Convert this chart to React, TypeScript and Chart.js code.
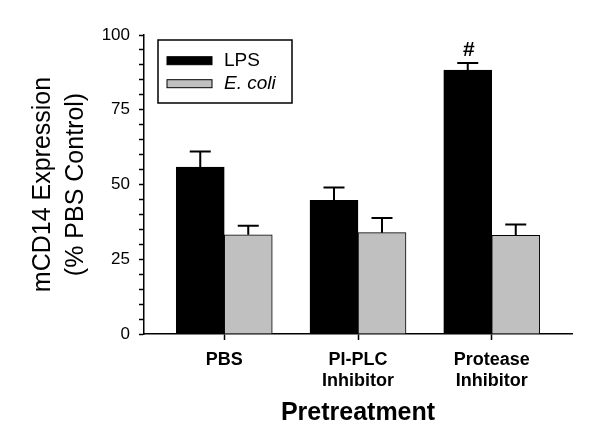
import { useEffect, useRef } from 'react';
import { Chart, registerables } from 'chart.js';

Chart.register(...registerables);

// ---- data ----
const categories: string[][] = [['PBS'], ['PI-PLC', 'Inhibitor'], ['Protease', 'Inhibitor']];
const categoryPositions = [1, 2, 3];
const seriesNames = ['LPS', 'E. coli'];
const lpsValues = [55.8, 44.7, 88.3];
const lpsErrors = [5.2, 4.3, 2.3];
const ecoliValues = [33.2, 33.9, 33.0];
const ecoliErrors = [3.0, 4.9, 3.6];
const lpsMarks = ['', '', '#'];
const yTickLabels = [0, 25, 50, 75, 100];
const yTitle = ['mCD14 Expression', '(% PBS Control)'];
const xTitle = 'Pretreatment';

const FONT = "'Liberation Sans', Arial, sans-serif";

const errorBarPlugin = {
  id: 'errorBars',
  afterDatasetsDraw(chart: any) {
    const ctx = chart.ctx;
    const yScale = chart.scales.y;
    chart.data.datasets.forEach((ds: any, i: number) => {
      const meta = chart.getDatasetMeta(i);
      meta.data.forEach((el: any, j: number) => {
        const v = ds.data[j].y;
        const top = yScale.getPixelForValue(v + ds.errors[j]);
        ctx.save();
        ctx.strokeStyle = '#000';
        ctx.lineWidth = 2;
        ctx.beginPath();
        ctx.moveTo(el.x, el.y);
        ctx.lineTo(el.x, top);
        ctx.moveTo(el.x - 10.5, top);
        ctx.lineTo(el.x + 10.5, top);
        ctx.stroke();
        const mark = ds.marks ? ds.marks[j] : '';
        if (mark) {
          ctx.fillStyle = '#000';
          ctx.font = `bold 21px ${FONT}`;
          ctx.textAlign = 'center';
          ctx.textBaseline = 'alphabetic';
          ctx.fillText(mark, el.x + 1, top - 7);
        }
        ctx.restore();
      });
    });
  },
};

const boxLegendPlugin = {
  id: 'boxLegend',
  afterDraw(chart: any) {
    const { ctx, chartArea } = chart;
    const x0 = chartArea.left + 14;
    const y0 = chartArea.top + 5;
    const w = 134;
    const h = 63;
    ctx.save();
    ctx.fillStyle = '#fff';
    ctx.fillRect(x0, y0, w, h);
    ctx.strokeStyle = '#000';
    ctx.lineWidth = 1.5;
    ctx.strokeRect(x0, y0, w, h);
    chart.data.datasets.forEach((ds: any, i: number) => {
      const sy = y0 + 16.7 + i * 23;
      ctx.fillStyle = ds.backgroundColor;
      ctx.fillRect(x0 + 9, sy, 45, 8);
      ctx.lineWidth = 1;
      ctx.strokeStyle = '#000';
      ctx.strokeRect(x0 + 9, sy, 45, 8);
      ctx.fillStyle = '#000';
      ctx.font = `${ds.legendItalic ? 'italic ' : ''}19px ${FONT}`;
      ctx.textAlign = 'left';
      ctx.textBaseline = 'middle';
      ctx.fillText(ds.label, x0 + 66, sy + 4.5);
    });
    ctx.restore();
  },
};

export default function App() {
  const ref = useRef<HTMLCanvasElement | null>(null);

  useEffect(() => {
    if (!ref.current) return;
    Chart.defaults.font.family = FONT;
    Chart.defaults.color = '#000';
    const chart = new Chart(ref.current, {
      type: 'bar',
      data: {
        datasets: [
          {
            label: seriesNames[0],
            data: categoryPositions.map((x, i) => ({ x, y: lpsValues[i] })),
            errors: lpsErrors,
            marks: lpsMarks,
            backgroundColor: '#000000',
            borderColor: '#000000',
            borderWidth: 1,
            barThickness: 48,
          } as any,
          {
            label: seriesNames[1],
            data: categoryPositions.map((x, i) => ({ x, y: ecoliValues[i] })),
            errors: ecoliErrors,
            legendItalic: true,
            backgroundColor: '#c0c0c0',
            borderColor: '#000000',
            borderWidth: 1,
            barThickness: 48,
          } as any,
        ],
      },
      options: {
        animation: false,
        responsive: true,
        maintainAspectRatio: false,
        layout: { padding: { left: 0, right: 28, top: 35, bottom: 0 } },
        plugins: {
          legend: { display: false },
          tooltip: { enabled: false },
        },
        scales: {
          x: {
            type: 'linear',
            position: 'bottom',
            min: 0.4,
            max: 3.6,
            offset: false,
            afterBuildTicks: (scale: any) => {
              scale.ticks = categoryPositions.map((v) => ({ value: v }));
            },
            afterFit: (scale: any) => {
              scale.height = 107;
            },
            ticks: {
              autoSkip: false,
              maxRotation: 0,
              padding: 9.5,
              font: { size: 18, weight: 'bold', lineHeight: 1.15 },
              color: '#000',
              callback: (_v: any, index: number) => categories[index],
            },
            grid: {
              offset: false,
              drawOnChartArea: false,
              drawTicks: true,
              tickLength: 6,
              tickColor: '#000',
              tickWidth: 1.5,
            },
            border: { display: true, color: '#000', width: 1.5 },
            title: {
              display: true,
              text: xTitle,
              font: { size: 25, weight: 'bold', lineHeight: 1.2 },
              color: '#000',
              padding: { top: 0, bottom: 13 },
            },
          },
          y: {
            type: 'linear',
            position: 'left',
            min: 0,
            max: 100,
            afterFit: (scale: any) => {
              scale.width = 144;
            },
            ticks: {
              stepSize: 5,
              autoSkip: false,
              padding: 9,
              font: { size: 17 },
              color: '#000',
              callback: (v: any) => (yTickLabels.includes(Number(v)) ? String(v) : ''),
            },
            grid: {
              drawOnChartArea: false,
              drawTicks: true,
              tickLength: 5,
              tickColor: '#000',
              tickWidth: 1.5,
            },
            border: { display: true, color: '#000', width: 1.5 },
            title: {
              display: true,
              text: yTitle,
              font: { size: 25, lineHeight: 1.32 },
              color: '#000',
              padding: { top: 26.5, bottom: 0 },
            },
          },
        },
      } as any,
      plugins: [errorBarPlugin, boxLegendPlugin],
    });
    return () => chart.destroy();
  }, []);

  return (
    <div style={{ position: 'fixed', left: 0, top: 0, width: 600, height: 441, background: '#fff' }}>
      <canvas ref={ref} />
    </div>
  );
}
